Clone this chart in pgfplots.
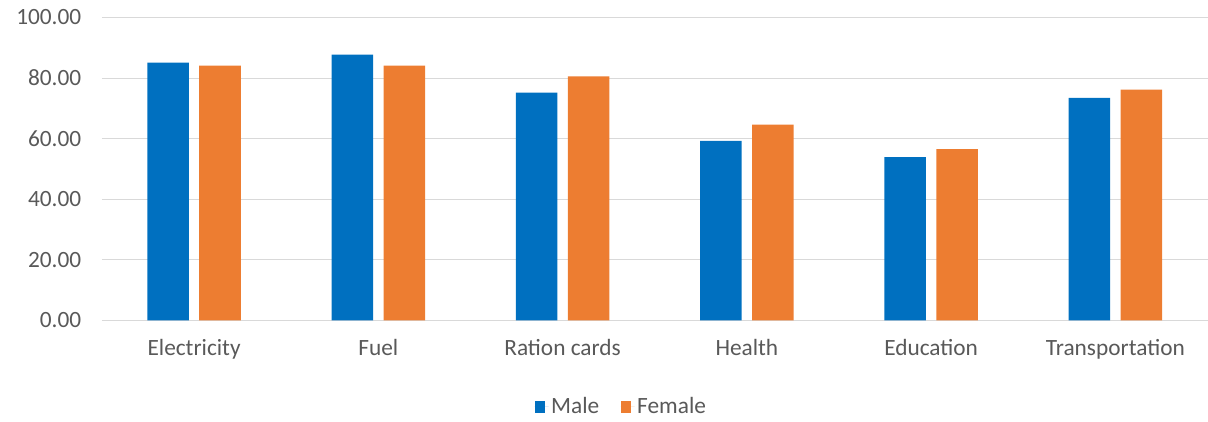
\documentclass[border=0pt]{standalone}
\usepackage{pgfplots}
\pgfplotsset{compat=1.18}
\usepackage{fontspec}
\setmainfont{Carlito}
\definecolor{male}{HTML}{0070C0}
\definecolor{female}{HTML}{ED7D31}
\definecolor{gridgrey}{HTML}{D9D9D9}
\definecolor{labelgrey}{HTML}{595959}
\begin{document}
\begin{tikzpicture}
\begin{axis}[
  at={(0,0)}, anchor=south west,
  scale only axis,
  width=829.5pt, height=227.25pt,
  ybar,
  bar width=0.226,
  xmin=-0.5, xmax=5.5,
  ymin=0, ymax=100,
  ytick={0,20,40,60,80,100},
  xtick=data,
  xticklabels={Electricity,Fuel,Ration cards,Health,Education,Transportation},
  ymajorgrids,
  grid style={gridgrey, line width=0.75pt},
  axis line style={draw=none},
  major tick length=0pt,
  tick label style={font=\fontsize{17.5}{20}\selectfont, text=labelgrey},
  yticklabel style={xshift=-12pt,
    /pgf/number format/.cd, fixed, fixed zerofill, precision=2, assume math mode=true},
  xticklabel style={yshift=-11pt},
  legend style={at={(0.47,-0.2855)}, anchor=center, draw=none,
    legend columns=2, font=\fontsize{17.5}{20}\selectfont, text=labelgrey,
    /tikz/every even column/.append style={column sep=14pt}},
  legend image code/.code={\fill[#1] (0pt,-4.5pt) rectangle (8pt,4.5pt);
    \path (0pt,0pt) -- (10.5pt,0pt);},
]
\addplot[fill=male, draw=none, bar shift=-0.141] coordinates {
(0,85.1) (1,87.7) (2,75.2) (3,59.3) (4,53.9) (5,73.5)
};
\addlegendentry{Male}
\addplot[fill=female, draw=none, bar shift=0.141] coordinates {
(0,84.1) (1,84.1) (2,80.6) (3,64.6) (4,56.5) (5,76.2)
};
\addlegendentry{Female}
\end{axis}
\path (-76.5pt,-76.125pt) rectangle (829.5pt,240.375pt);
\end{tikzpicture}
\end{document}
